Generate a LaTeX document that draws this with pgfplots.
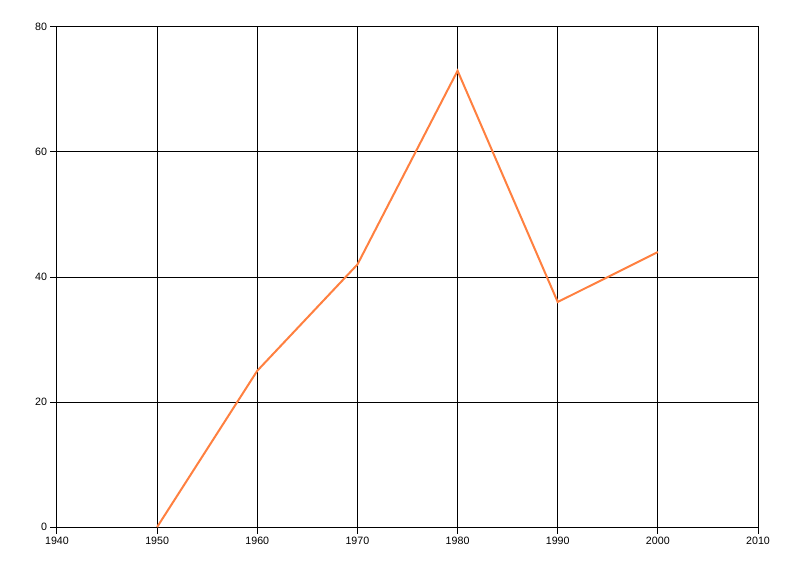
\documentclass[border=0pt]{standalone}
\usepackage{pgfplots}
\pgfplotsset{compat=1.18}
\usepackage{fontspec}
\setmainfont{Liberation Sans}
\definecolor{lineor}{RGB}{255,128,64}
\begin{document}
\begin{tikzpicture}
\path[draw=none] (-42.75pt,-36.75pt) rectangle (557.25pt,395.25pt);
\begin{axis}[
  at={(0,0)}, anchor=south west,
  scale only axis, width=525.75pt, height=375pt,
  xmin=1940, xmax=2010, ymin=0, ymax=80,
  xtick={1940,1950,...,2010}, ytick={0,20,...,80},
  grid=major, major grid style={black, line width=0.75pt},
  axis line style={black, line width=0.75pt},
  tick style={black, line width=0.75pt},
  tick align=outside, major tick length=5pt,
  xtick pos=bottom, ytick pos=left,
  /pgf/number format/assume math mode=true,
  /pgf/number format/1000 sep={},
  tick label style={font=\fontsize{8}{9}\selectfont, black},
  xticklabel style={yshift=1pt},
  yticklabel style={xshift=1pt},
  clip=false,
]
\addplot[lineor, line width=1.5pt, line join=miter] coordinates {
(1950,0) (1960,25) (1970,42) (1980,73) (1990,36) (2000,44)
};
\end{axis}
\end{tikzpicture}
\end{document}
